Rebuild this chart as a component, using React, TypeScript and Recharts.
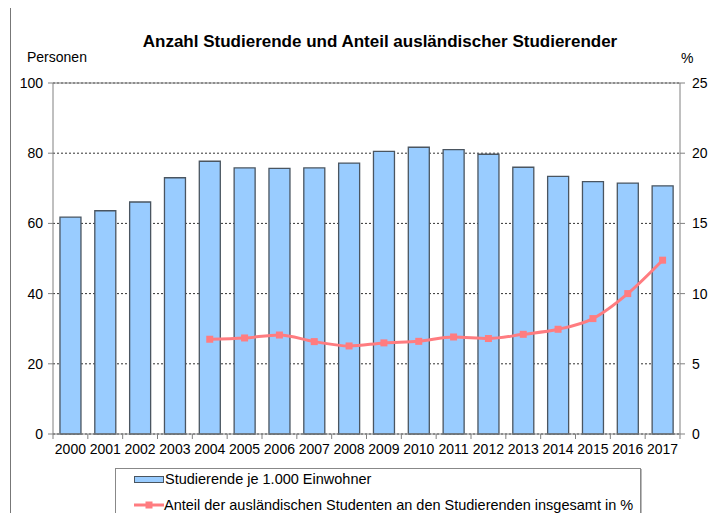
import React from 'react';
import {
  ComposedChart, Bar, Line, XAxis, YAxis, CartesianGrid, ReferenceLine,
} from 'recharts';

const years = [
  '2000', '2001', '2002', '2003', '2004', '2005', '2006', '2007', '2008',
  '2009', '2010', '2011', '2012', '2013', '2014', '2015', '2016', '2017',
];
const studierende = [
  61.8, 63.6, 66.1, 73.0, 77.7, 75.8, 75.7, 75.8, 77.2,
  80.5, 81.7, 81.0, 79.7, 76.0, 73.4, 71.9, 71.5, 70.7,
];
const anteil: (number | null)[] = [
  null, null, null, null, 6.75, 6.84, 7.05, 6.58, 6.27,
  6.49, 6.6, 6.91, 6.8, 7.1, 7.46, 8.22, 10.0, 12.38,
];
const leftTicks = [0, 20, 40, 60, 80, 100];
const rightTicks = [0, 5, 10, 15, 20, 25];

const barLabel = 'Studierende je 1.000 Einwohner';
const lineLabel = 'Anteil der ausländischen Studenten an den Studierenden insgesamt in %';

const FONT = '"Liberation Sans", Arial, sans-serif';
const AXIS_Y = 434;
const LINE_COLOR = '#FF7C80';

const data = years.map((y, i) => ({ year: y, studierende: studierende[i], anteil: anteil[i] }));

const YearTick = (props: any) => {
  const { x, y, payload, index } = props;
  const half = payload?.offset ?? 17.4;
  return (
    <g>
      <line x1={x - half} x2={x - half} y1={AXIS_Y} y2={AXIS_Y + 5} stroke="#808080" />
      {index === years.length - 1 && (
        <line x1={x + half} x2={x + half} y1={AXIS_Y} y2={AXIS_Y + 5} stroke="#808080" />
      )}
      <text x={x} y={y} dy="0.71em" textAnchor="middle" fontSize={14} fill="#000" fontFamily={FONT}>
        {payload.value}
      </text>
    </g>
  );
};

const SquareDot = (props: any) => {
  const { cx, cy, value } = props;
  if (value == null || cx == null || cy == null) return null;
  return <rect x={cx - 3.5} y={cy - 3.5} width={7} height={7} fill={LINE_COLOR} />;
};

export default function App() {
  return (
    <div style={{ position: 'relative', width: 719, height: 521, margin: -8, background: '#fff', overflow: 'hidden', fontFamily: FONT }}>
      <div style={{ position: 'absolute', left: 10, top: 6, width: 760, height: 560, borderLeft: '1px solid #777', borderTop: '1px solid #777' }} />
      <div style={{ position: 'absolute', left: 80, width: 600, top: 32, textAlign: 'center', fontSize: 17, fontWeight: 'bold', color: '#000' }}>
        Anzahl Studierende und Anteil ausländischer Studierender
      </div>
      <div style={{ position: 'absolute', left: 27, top: 49, fontSize: 14, color: '#000' }}>Personen</div>
      <div style={{ position: 'absolute', left: 681, top: 50, fontSize: 14, color: '#000' }}>%</div>

      <ComposedChart
        width={719}
        height={521}
        data={data}
        margin={{ top: 83, right: 9, bottom: 57, left: 8 }}
        barCategoryGap="20%"
        style={{ position: 'absolute', left: 0, top: 0 }}
      >
        <CartesianGrid yAxisId="l" vertical={false} stroke="#333" strokeDasharray="2 2" />
        <XAxis
          dataKey="year"
          yAxisId="l"
          height={30}
          tickLine={false}
          tickSize={5}
          tickMargin={5}
          interval={0}
          tick={<YearTick />}
          axisLine={{ stroke: '#808080' }}
        />
        <YAxis
          yAxisId="l"
          orientation="left"
          width={45}
          domain={[0, 100]}
          ticks={leftTicks}
          tickSize={5}
          tickMargin={5}
          axisLine={{ stroke: '#808080' }}
          tickLine={{ stroke: '#808080' }}
          tick={{ fontSize: 14, fill: '#000', fontFamily: FONT }}
        />
        <YAxis
          yAxisId="r"
          orientation="right"
          width={30}
          domain={[0, 25]}
          ticks={rightTicks}
          tickSize={5}
          tickMargin={7}
          axisLine={{ stroke: '#808080' }}
          tickLine={{ stroke: '#808080' }}
          tick={{ fontSize: 14, fill: '#000', fontFamily: FONT }}
        />
        <ReferenceLine yAxisId="l" y={100} stroke="#808080" />
        <Bar
          yAxisId="l"
          dataKey="studierende"
          fill="#99CCFF"
          stroke="#4A5560"
          strokeWidth={1.3}
          isAnimationActive={false}
        />
        <Line
          yAxisId="r"
          type="monotone"
          dataKey="anteil"
          stroke={LINE_COLOR}
          strokeWidth={3}
          dot={<SquareDot />}
          activeDot={false}
          isAnimationActive={false}
        />
      </ComposedChart>

      <div style={{ position: 'absolute', left: 115, top: 468, width: 524, height: 48, border: '1px solid #888', boxShadow: '1px 1px 0 #bbb', background: '#fff', fontSize: 14.5, color: '#000' }}>
        <div style={{ position: 'absolute', left: 18, top: 0, display: 'flex', alignItems: 'center', height: 20 }}>
          <span style={{ display: 'inline-block', width: 28, height: 5, background: '#99CCFF', border: '1px solid #4A5560', marginRight: 1 }} />
          <span>{barLabel}</span>
        </div>
        <div style={{ position: 'absolute', left: 18, top: 26, display: 'flex', alignItems: 'center', height: 20 }}>
          <svg width={30} height={10}>
            <line x1={0} x2={30} y1={5} y2={5} stroke={LINE_COLOR} strokeWidth={3} />
            <rect x={11.5} y={1.5} width={7} height={7} fill={LINE_COLOR} />
          </svg>
          <span>{lineLabel}</span>
        </div>
      </div>
    </div>
  );
}
